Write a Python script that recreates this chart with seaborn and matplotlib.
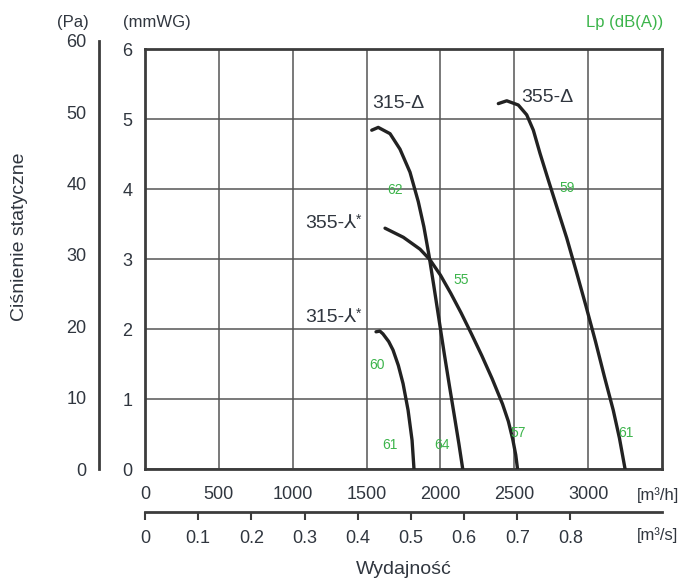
import numpy as np
import pandas as pd
import matplotlib.pyplot as plt
import seaborn as sns

# fan curves: flow [m3/h] vs static pressure [mmWG]
flow_315_d = [1535, 1579, 1659, 1726, 1794, 1850, 1888, 1922, 1955, 1990, 2025, 2060, 2095, 2125, 2151]
p_315_d = [4.84, 4.88, 4.79, 4.57, 4.24, 3.82, 3.46, 3.06, 2.62, 2.14, 1.66, 1.20, 0.75, 0.36, 0.0]

flow_355_d = [2392, 2449, 2527, 2584, 2629, 2674, 2730, 2787, 2855, 2920, 2985, 3050, 3110, 3170, 3212, 3250]
p_355_d = [5.22, 5.26, 5.20, 5.06, 4.84, 4.51, 4.13, 3.75, 3.30, 2.82, 2.33, 1.82, 1.32, 0.84, 0.44, 0.0]

flow_355_y = [1625, 1749, 1862, 1929, 2000, 2070, 2140, 2210, 2280, 2350, 2420, 2460, 2490, 2510, 2522]
p_355_y = [3.44, 3.31, 3.14, 2.99, 2.77, 2.51, 2.23, 1.93, 1.62, 1.29, 0.93, 0.68, 0.42, 0.20, 0.0]

flow_315_y = [1564, 1590, 1611, 1650, 1679, 1715, 1747, 1781, 1808, 1821]
p_315_y = [1.96, 1.97, 1.93, 1.82, 1.70, 1.48, 1.22, 0.84, 0.41, 0.0]

curve_names = ['315-Δ', '355-Δ', '355-⅄', '315-⅄']
curve_star = [False, False, True, True]

# sound pressure level labels (dB(A)) and where they sit
lp_values = ['62', '59', '55', '60', '61', '64', '57', '61']
lp_flow = [1692, 2855, 2139, 1568, 1659, 2009, 2527, 3254]
lp_p = [3.99, 4.01, 2.70, 1.49, 0.34, 0.34, 0.52, 0.52]

flow_ticks = [0, 500, 1000, 1500, 2000, 2500, 3000]
mmwg_ticks = [0, 1, 2, 3, 4, 5, 6]
pa_ticks = [0, 10, 20, 30, 40, 50, 60]
m3s_ticks = [0, 0.1, 0.2, 0.3, 0.4, 0.5, 0.6, 0.7, 0.8]
m3s_labels = ['0', '0.1', '0.2', '0.3', '0.4', '0.5', '0.6', '0.7', '0.8']

sns.set_style('white')
plt.rcParams['font.family'] = ['Liberation Sans', 'DejaVu Sans']

txt = '#30363f'
green = '#3cb44b'
line_col = '#3c3c3c'

fig = plt.figure(figsize=(6.91, 5.82), dpi=100)
ax = fig.add_axes([145 / 691, 113 / 582, 517 / 691, 420 / 582])

frames = []
for n, f, p in zip(curve_names,
                   [flow_315_d, flow_355_d, flow_355_y, flow_315_y],
                   [p_315_d, p_355_d, p_355_y, p_315_y]):
    frames.append(pd.DataFrame({'flow': f, 'p': p, 'curve': n}))
df = pd.concat(frames, ignore_index=True)

sns.lineplot(data=df, x='flow', y='p', hue='curve', palette=['#222222'] * 4,
             sort=False, estimator=None, lw=2.4, legend=False, ax=ax, zorder=3)

ax.set_xlim(0, 3500)
ax.set_ylim(0, 6)
ax.set_xticks(flow_ticks)
ax.set_yticks(mmwg_ticks)
ax.set_xlabel('')
ax.set_ylabel('')
ax.grid(True, color='#555555', lw=1.1)
for s in ax.spines.values():
    s.set_visible(True)
    s.set_linewidth(2)
    s.set_color(line_col)
ax.tick_params(direction='out', length=6, width=1.5, color=line_col,
               labelsize=13, labelcolor=txt, pad=3)
ax.tick_params(axis='x', pad=6)

# second flow axis in m3/s
sec = ax.secondary_xaxis(-0.102, functions=(lambda q: q / 3600, lambda q: q * 3600))
sec.set_xticks(m3s_ticks, labels=m3s_labels)
sec.spines['bottom'].set_linewidth(2)
sec.spines['bottom'].set_color(line_col)
sec.tick_params(direction='out', length=6, width=1.5, color=line_col,
                labelsize=13, labelcolor=txt, pad=7)

# pressure axis in Pa (1 mmWG = 9.81 Pa)
pa_h = 420 / 582 * (60 / 9.81) / 6
ax_pa = fig.add_axes([145 / 691, 113 / 582, 517 / 691, pa_h])
ax_pa.patch.set_visible(False)
for k in ['top', 'right', 'bottom']:
    ax_pa.spines[k].set_visible(False)
ax_pa.spines['left'].set_position(('outward', 33))
ax_pa.spines['left'].set_linewidth(2)
ax_pa.spines['left'].set_color(line_col)
ax_pa.set_ylim(0, 60)
ax_pa.set_yticks(pa_ticks)
ax_pa.set_xticks([])
ax_pa.tick_params(axis='y', direction='out', length=6, width=1.5, color=line_col,
                  labelsize=13, labelcolor=txt, pad=3)

# curve names
name_x = [1535, 2550, 1083, 1083]
name_y = [5.22, 5.30, 3.50, 2.16]
for n, st, x, y in zip(curve_names, curve_star, name_x, name_y):
    t = ax.text(x, y, n, fontsize=14, color=txt, ha='left', va='center')
    if st:
        ax.annotate('*', xy=(1, 1), xycoords=t, xytext=(0, -3), textcoords='offset points',
                    fontsize=10, color=txt, ha='left', va='center')

for lab, x, y in zip(lp_values, lp_flow, lp_p):
    ax.text(x, y, lab, fontsize=10, color=green, ha='center', va='center', zorder=4)

fig.text(73 / 691, 1 - 23 / 582, '(Pa)', fontsize=12, color=txt, ha='center', va='center')
fig.text(157 / 691, 1 - 23 / 582, '(mmWG)', fontsize=12, color=txt, ha='center', va='center')
fig.text(663 / 691, 1 - 23 / 582, 'Lp (dB(A))', fontsize=12, color=green, ha='right', va='center')
fig.text(20 / 691, 1 - 237 / 582, 'Ciśnienie statyczne', fontsize=14, color=txt,
         rotation=90, ha='center', va='center')
fig.text(404 / 691, 1 - 570 / 582, 'Wydajność', fontsize=14, color=txt, ha='center', va='center')
fig.text(637 / 691, 1 - 495 / 582, '[m³/h]', fontsize=12, color=txt, ha='left', va='center')
fig.text(637 / 691, 1 - 535 / 582, '[m³/s]', fontsize=12, color=txt, ha='left', va='center')

fig.savefig('out.png', dpi=100)
